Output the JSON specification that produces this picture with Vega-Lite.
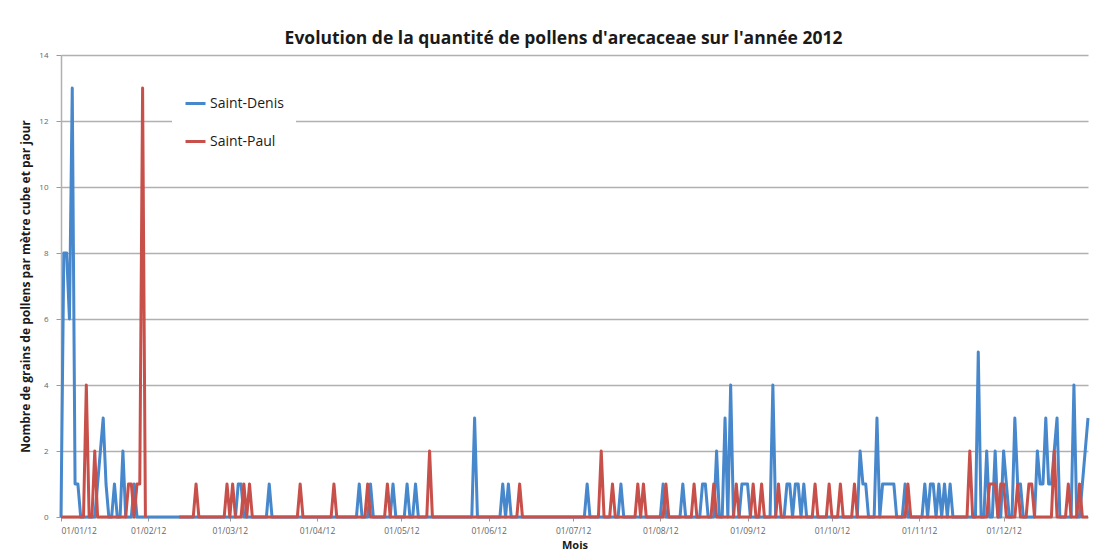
{
"$schema": "https://vega.github.io/schema/vega-lite/v6.json",
"autosize": "none",
"width": 1027,
"height": 462,
"padding": {"left": 61, "top": 55, "right": 16, "bottom": 35},
"background": "white",
"title": {"text": "Evolution de la quantité de pollens d'arecaceae sur l'année 2012", "font": "Open Sans", "fontSize": 17.5, "fontWeight": "bold", "color": "#1a1a1a", "anchor": "middle", "offset": 4, "dx": -11},
"data": {"values": [
{"date":"2012-01-01","Saint-Denis":0,"Saint-Paul":0},
{"date":"2012-01-02","Saint-Denis":8,"Saint-Paul":0},
{"date":"2012-01-03","Saint-Denis":8,"Saint-Paul":0},
{"date":"2012-01-04","Saint-Denis":6,"Saint-Paul":0},
{"date":"2012-01-05","Saint-Denis":13,"Saint-Paul":0},
{"date":"2012-01-06","Saint-Denis":1,"Saint-Paul":0},
{"date":"2012-01-07","Saint-Denis":1,"Saint-Paul":0},
{"date":"2012-01-08","Saint-Denis":0,"Saint-Paul":0},
{"date":"2012-01-09","Saint-Denis":0,"Saint-Paul":0},
{"date":"2012-01-10","Saint-Denis":0,"Saint-Paul":4},
{"date":"2012-01-11","Saint-Denis":0,"Saint-Paul":0},
{"date":"2012-01-12","Saint-Denis":0,"Saint-Paul":0},
{"date":"2012-01-13","Saint-Denis":0,"Saint-Paul":2},
{"date":"2012-01-14","Saint-Denis":1,"Saint-Paul":0},
{"date":"2012-01-15","Saint-Denis":2,"Saint-Paul":0},
{"date":"2012-01-16","Saint-Denis":3,"Saint-Paul":0},
{"date":"2012-01-17","Saint-Denis":1,"Saint-Paul":0},
{"date":"2012-01-18","Saint-Denis":0,"Saint-Paul":0},
{"date":"2012-01-19","Saint-Denis":0,"Saint-Paul":0},
{"date":"2012-01-20","Saint-Denis":1,"Saint-Paul":0},
{"date":"2012-01-21","Saint-Denis":0,"Saint-Paul":0},
{"date":"2012-01-22","Saint-Denis":0,"Saint-Paul":0},
{"date":"2012-01-23","Saint-Denis":2,"Saint-Paul":0},
{"date":"2012-01-24","Saint-Denis":0,"Saint-Paul":0},
{"date":"2012-01-25","Saint-Denis":0,"Saint-Paul":1},
{"date":"2012-01-26","Saint-Denis":0,"Saint-Paul":1},
{"date":"2012-01-27","Saint-Denis":1,"Saint-Paul":0},
{"date":"2012-01-28","Saint-Denis":0,"Saint-Paul":1},
{"date":"2012-01-29","Saint-Denis":0,"Saint-Paul":1},
{"date":"2012-01-30","Saint-Denis":0,"Saint-Paul":13},
{"date":"2012-01-31","Saint-Denis":0,"Saint-Paul":0},
{"date":"2012-02-01","Saint-Denis":0,"Saint-Paul":null},
{"date":"2012-02-02","Saint-Denis":0,"Saint-Paul":null},
{"date":"2012-02-03","Saint-Denis":0,"Saint-Paul":null},
{"date":"2012-02-04","Saint-Denis":0,"Saint-Paul":null},
{"date":"2012-02-05","Saint-Denis":0,"Saint-Paul":null},
{"date":"2012-02-06","Saint-Denis":0,"Saint-Paul":null},
{"date":"2012-02-07","Saint-Denis":0,"Saint-Paul":null},
{"date":"2012-02-08","Saint-Denis":0,"Saint-Paul":null},
{"date":"2012-02-09","Saint-Denis":0,"Saint-Paul":null},
{"date":"2012-02-10","Saint-Denis":0,"Saint-Paul":null},
{"date":"2012-02-11","Saint-Denis":0,"Saint-Paul":null},
{"date":"2012-02-12","Saint-Denis":0,"Saint-Paul":0},
{"date":"2012-02-13","Saint-Denis":0,"Saint-Paul":0},
{"date":"2012-02-14","Saint-Denis":0,"Saint-Paul":0},
{"date":"2012-02-15","Saint-Denis":0,"Saint-Paul":0},
{"date":"2012-02-16","Saint-Denis":0,"Saint-Paul":0},
{"date":"2012-02-17","Saint-Denis":0,"Saint-Paul":0},
{"date":"2012-02-18","Saint-Denis":0,"Saint-Paul":1},
{"date":"2012-02-19","Saint-Denis":0,"Saint-Paul":0},
{"date":"2012-02-20","Saint-Denis":0,"Saint-Paul":0},
{"date":"2012-02-21","Saint-Denis":0,"Saint-Paul":0},
{"date":"2012-02-22","Saint-Denis":0,"Saint-Paul":0},
{"date":"2012-02-23","Saint-Denis":0,"Saint-Paul":0},
{"date":"2012-02-24","Saint-Denis":0,"Saint-Paul":0},
{"date":"2012-02-25","Saint-Denis":0,"Saint-Paul":0},
{"date":"2012-02-26","Saint-Denis":0,"Saint-Paul":0},
{"date":"2012-02-27","Saint-Denis":0,"Saint-Paul":0},
{"date":"2012-02-28","Saint-Denis":0,"Saint-Paul":0},
{"date":"2012-02-29","Saint-Denis":0,"Saint-Paul":1},
{"date":"2012-03-01","Saint-Denis":0,"Saint-Paul":0},
{"date":"2012-03-02","Saint-Denis":0,"Saint-Paul":1},
{"date":"2012-03-03","Saint-Denis":0,"Saint-Paul":0},
{"date":"2012-03-04","Saint-Denis":1,"Saint-Paul":0},
{"date":"2012-03-05","Saint-Denis":1,"Saint-Paul":0},
{"date":"2012-03-06","Saint-Denis":0,"Saint-Paul":1},
{"date":"2012-03-07","Saint-Denis":0,"Saint-Paul":0},
{"date":"2012-03-08","Saint-Denis":0,"Saint-Paul":1},
{"date":"2012-03-09","Saint-Denis":0,"Saint-Paul":0},
{"date":"2012-03-10","Saint-Denis":0,"Saint-Paul":0},
{"date":"2012-03-11","Saint-Denis":0,"Saint-Paul":0},
{"date":"2012-03-12","Saint-Denis":0,"Saint-Paul":0},
{"date":"2012-03-13","Saint-Denis":0,"Saint-Paul":0},
{"date":"2012-03-14","Saint-Denis":0,"Saint-Paul":0},
{"date":"2012-03-15","Saint-Denis":1,"Saint-Paul":0},
{"date":"2012-03-16","Saint-Denis":0,"Saint-Paul":0},
{"date":"2012-03-17","Saint-Denis":0,"Saint-Paul":0},
{"date":"2012-03-18","Saint-Denis":0,"Saint-Paul":0},
{"date":"2012-03-19","Saint-Denis":0,"Saint-Paul":0},
{"date":"2012-03-20","Saint-Denis":0,"Saint-Paul":0},
{"date":"2012-03-21","Saint-Denis":0,"Saint-Paul":0},
{"date":"2012-03-22","Saint-Denis":0,"Saint-Paul":0},
{"date":"2012-03-23","Saint-Denis":0,"Saint-Paul":0},
{"date":"2012-03-24","Saint-Denis":0,"Saint-Paul":0},
{"date":"2012-03-25","Saint-Denis":0,"Saint-Paul":0},
{"date":"2012-03-26","Saint-Denis":0,"Saint-Paul":1},
{"date":"2012-03-27","Saint-Denis":0,"Saint-Paul":0},
{"date":"2012-03-28","Saint-Denis":0,"Saint-Paul":0},
{"date":"2012-03-29","Saint-Denis":0,"Saint-Paul":0},
{"date":"2012-03-30","Saint-Denis":0,"Saint-Paul":0},
{"date":"2012-03-31","Saint-Denis":0,"Saint-Paul":0},
{"date":"2012-04-01","Saint-Denis":0,"Saint-Paul":0},
{"date":"2012-04-02","Saint-Denis":0,"Saint-Paul":0},
{"date":"2012-04-03","Saint-Denis":0,"Saint-Paul":0},
{"date":"2012-04-04","Saint-Denis":0,"Saint-Paul":0},
{"date":"2012-04-05","Saint-Denis":0,"Saint-Paul":0},
{"date":"2012-04-06","Saint-Denis":0,"Saint-Paul":0},
{"date":"2012-04-07","Saint-Denis":0,"Saint-Paul":1},
{"date":"2012-04-08","Saint-Denis":0,"Saint-Paul":0},
{"date":"2012-04-09","Saint-Denis":0,"Saint-Paul":0},
{"date":"2012-04-10","Saint-Denis":0,"Saint-Paul":0},
{"date":"2012-04-11","Saint-Denis":0,"Saint-Paul":0},
{"date":"2012-04-12","Saint-Denis":0,"Saint-Paul":0},
{"date":"2012-04-13","Saint-Denis":0,"Saint-Paul":0},
{"date":"2012-04-14","Saint-Denis":0,"Saint-Paul":0},
{"date":"2012-04-15","Saint-Denis":0,"Saint-Paul":0},
{"date":"2012-04-16","Saint-Denis":1,"Saint-Paul":0},
{"date":"2012-04-17","Saint-Denis":0,"Saint-Paul":0},
{"date":"2012-04-18","Saint-Denis":0,"Saint-Paul":0},
{"date":"2012-04-19","Saint-Denis":0,"Saint-Paul":1},
{"date":"2012-04-20","Saint-Denis":1,"Saint-Paul":0},
{"date":"2012-04-21","Saint-Denis":0,"Saint-Paul":0},
{"date":"2012-04-22","Saint-Denis":0,"Saint-Paul":0},
{"date":"2012-04-23","Saint-Denis":0,"Saint-Paul":0},
{"date":"2012-04-24","Saint-Denis":0,"Saint-Paul":0},
{"date":"2012-04-25","Saint-Denis":0,"Saint-Paul":0},
{"date":"2012-04-26","Saint-Denis":0,"Saint-Paul":1},
{"date":"2012-04-27","Saint-Denis":0,"Saint-Paul":0},
{"date":"2012-04-28","Saint-Denis":1,"Saint-Paul":0},
{"date":"2012-04-29","Saint-Denis":0,"Saint-Paul":0},
{"date":"2012-04-30","Saint-Denis":0,"Saint-Paul":0},
{"date":"2012-05-01","Saint-Denis":0,"Saint-Paul":0},
{"date":"2012-05-02","Saint-Denis":0,"Saint-Paul":0},
{"date":"2012-05-03","Saint-Denis":1,"Saint-Paul":0},
{"date":"2012-05-04","Saint-Denis":0,"Saint-Paul":0},
{"date":"2012-05-05","Saint-Denis":0,"Saint-Paul":0},
{"date":"2012-05-06","Saint-Denis":1,"Saint-Paul":0},
{"date":"2012-05-07","Saint-Denis":0,"Saint-Paul":0},
{"date":"2012-05-08","Saint-Denis":0,"Saint-Paul":0},
{"date":"2012-05-09","Saint-Denis":0,"Saint-Paul":0},
{"date":"2012-05-10","Saint-Denis":0,"Saint-Paul":0},
{"date":"2012-05-11","Saint-Denis":0,"Saint-Paul":2},
{"date":"2012-05-12","Saint-Denis":0,"Saint-Paul":0},
{"date":"2012-05-13","Saint-Denis":0,"Saint-Paul":0},
{"date":"2012-05-14","Saint-Denis":0,"Saint-Paul":0},
{"date":"2012-05-15","Saint-Denis":0,"Saint-Paul":0},
{"date":"2012-05-16","Saint-Denis":0,"Saint-Paul":0},
{"date":"2012-05-17","Saint-Denis":0,"Saint-Paul":0},
{"date":"2012-05-18","Saint-Denis":0,"Saint-Paul":0},
{"date":"2012-05-19","Saint-Denis":0,"Saint-Paul":0},
{"date":"2012-05-20","Saint-Denis":0,"Saint-Paul":0},
{"date":"2012-05-21","Saint-Denis":0,"Saint-Paul":0},
{"date":"2012-05-22","Saint-Denis":0,"Saint-Paul":0},
{"date":"2012-05-23","Saint-Denis":0,"Saint-Paul":0},
{"date":"2012-05-24","Saint-Denis":0,"Saint-Paul":0},
{"date":"2012-05-25","Saint-Denis":0,"Saint-Paul":0},
{"date":"2012-05-26","Saint-Denis":0,"Saint-Paul":0},
{"date":"2012-05-27","Saint-Denis":3,"Saint-Paul":0},
{"date":"2012-05-28","Saint-Denis":0,"Saint-Paul":0},
{"date":"2012-05-29","Saint-Denis":0,"Saint-Paul":0},
{"date":"2012-05-30","Saint-Denis":0,"Saint-Paul":0},
{"date":"2012-05-31","Saint-Denis":0,"Saint-Paul":0},
{"date":"2012-06-01","Saint-Denis":0,"Saint-Paul":0},
{"date":"2012-06-02","Saint-Denis":0,"Saint-Paul":0},
{"date":"2012-06-03","Saint-Denis":0,"Saint-Paul":0},
{"date":"2012-06-04","Saint-Denis":0,"Saint-Paul":0},
{"date":"2012-06-05","Saint-Denis":0,"Saint-Paul":0},
{"date":"2012-06-06","Saint-Denis":1,"Saint-Paul":0},
{"date":"2012-06-07","Saint-Denis":0,"Saint-Paul":0},
{"date":"2012-06-08","Saint-Denis":1,"Saint-Paul":0},
{"date":"2012-06-09","Saint-Denis":0,"Saint-Paul":0},
{"date":"2012-06-10","Saint-Denis":0,"Saint-Paul":0},
{"date":"2012-06-11","Saint-Denis":0,"Saint-Paul":0},
{"date":"2012-06-12","Saint-Denis":0,"Saint-Paul":1},
{"date":"2012-06-13","Saint-Denis":0,"Saint-Paul":0},
{"date":"2012-06-14","Saint-Denis":0,"Saint-Paul":0},
{"date":"2012-06-15","Saint-Denis":0,"Saint-Paul":0},
{"date":"2012-06-16","Saint-Denis":0,"Saint-Paul":0},
{"date":"2012-06-17","Saint-Denis":0,"Saint-Paul":0},
{"date":"2012-06-18","Saint-Denis":0,"Saint-Paul":0},
{"date":"2012-06-19","Saint-Denis":0,"Saint-Paul":0},
{"date":"2012-06-20","Saint-Denis":0,"Saint-Paul":0},
{"date":"2012-06-21","Saint-Denis":0,"Saint-Paul":0},
{"date":"2012-06-22","Saint-Denis":0,"Saint-Paul":0},
{"date":"2012-06-23","Saint-Denis":0,"Saint-Paul":0},
{"date":"2012-06-24","Saint-Denis":0,"Saint-Paul":0},
{"date":"2012-06-25","Saint-Denis":0,"Saint-Paul":0},
{"date":"2012-06-26","Saint-Denis":0,"Saint-Paul":0},
{"date":"2012-06-27","Saint-Denis":0,"Saint-Paul":0},
{"date":"2012-06-28","Saint-Denis":0,"Saint-Paul":0},
{"date":"2012-06-29","Saint-Denis":0,"Saint-Paul":0},
{"date":"2012-06-30","Saint-Denis":0,"Saint-Paul":0},
{"date":"2012-07-01","Saint-Denis":0,"Saint-Paul":0},
{"date":"2012-07-02","Saint-Denis":0,"Saint-Paul":0},
{"date":"2012-07-03","Saint-Denis":0,"Saint-Paul":0},
{"date":"2012-07-04","Saint-Denis":0,"Saint-Paul":0},
{"date":"2012-07-05","Saint-Denis":0,"Saint-Paul":0},
{"date":"2012-07-06","Saint-Denis":1,"Saint-Paul":0},
{"date":"2012-07-07","Saint-Denis":0,"Saint-Paul":0},
{"date":"2012-07-08","Saint-Denis":0,"Saint-Paul":0},
{"date":"2012-07-09","Saint-Denis":0,"Saint-Paul":0},
{"date":"2012-07-10","Saint-Denis":0,"Saint-Paul":0},
{"date":"2012-07-11","Saint-Denis":0,"Saint-Paul":2},
{"date":"2012-07-12","Saint-Denis":0,"Saint-Paul":0},
{"date":"2012-07-13","Saint-Denis":0,"Saint-Paul":0},
{"date":"2012-07-14","Saint-Denis":0,"Saint-Paul":0},
{"date":"2012-07-15","Saint-Denis":0,"Saint-Paul":1},
{"date":"2012-07-16","Saint-Denis":0,"Saint-Paul":0},
{"date":"2012-07-17","Saint-Denis":0,"Saint-Paul":0},
{"date":"2012-07-18","Saint-Denis":1,"Saint-Paul":0},
{"date":"2012-07-19","Saint-Denis":0,"Saint-Paul":0},
{"date":"2012-07-20","Saint-Denis":0,"Saint-Paul":0},
{"date":"2012-07-21","Saint-Denis":0,"Saint-Paul":0},
{"date":"2012-07-22","Saint-Denis":0,"Saint-Paul":0},
{"date":"2012-07-23","Saint-Denis":0,"Saint-Paul":0},
{"date":"2012-07-24","Saint-Denis":0,"Saint-Paul":1},
{"date":"2012-07-25","Saint-Denis":0,"Saint-Paul":0},
{"date":"2012-07-26","Saint-Denis":0,"Saint-Paul":1},
{"date":"2012-07-27","Saint-Denis":0,"Saint-Paul":0},
{"date":"2012-07-28","Saint-Denis":0,"Saint-Paul":0},
{"date":"2012-07-29","Saint-Denis":0,"Saint-Paul":0},
{"date":"2012-07-30","Saint-Denis":0,"Saint-Paul":0},
{"date":"2012-07-31","Saint-Denis":0,"Saint-Paul":0},
{"date":"2012-08-01","Saint-Denis":0,"Saint-Paul":0},
{"date":"2012-08-02","Saint-Denis":1,"Saint-Paul":0},
{"date":"2012-08-03","Saint-Denis":0,"Saint-Paul":1},
{"date":"2012-08-04","Saint-Denis":0,"Saint-Paul":0},
{"date":"2012-08-05","Saint-Denis":0,"Saint-Paul":0},
{"date":"2012-08-06","Saint-Denis":0,"Saint-Paul":0},
{"date":"2012-08-07","Saint-Denis":0,"Saint-Paul":0},
{"date":"2012-08-08","Saint-Denis":0,"Saint-Paul":0},
{"date":"2012-08-09","Saint-Denis":1,"Saint-Paul":0},
{"date":"2012-08-10","Saint-Denis":0,"Saint-Paul":0},
{"date":"2012-08-11","Saint-Denis":0,"Saint-Paul":0},
{"date":"2012-08-12","Saint-Denis":0,"Saint-Paul":0},
{"date":"2012-08-13","Saint-Denis":0,"Saint-Paul":1},
{"date":"2012-08-14","Saint-Denis":0,"Saint-Paul":0},
{"date":"2012-08-15","Saint-Denis":0,"Saint-Paul":0},
{"date":"2012-08-16","Saint-Denis":1,"Saint-Paul":0},
{"date":"2012-08-17","Saint-Denis":1,"Saint-Paul":0},
{"date":"2012-08-18","Saint-Denis":0,"Saint-Paul":0},
{"date":"2012-08-19","Saint-Denis":0,"Saint-Paul":0},
{"date":"2012-08-20","Saint-Denis":0,"Saint-Paul":1},
{"date":"2012-08-21","Saint-Denis":2,"Saint-Paul":0},
{"date":"2012-08-22","Saint-Denis":0,"Saint-Paul":0},
{"date":"2012-08-23","Saint-Denis":0,"Saint-Paul":0},
{"date":"2012-08-24","Saint-Denis":3,"Saint-Paul":0},
{"date":"2012-08-25","Saint-Denis":0,"Saint-Paul":0},
{"date":"2012-08-26","Saint-Denis":4,"Saint-Paul":0},
{"date":"2012-08-27","Saint-Denis":0,"Saint-Paul":0},
{"date":"2012-08-28","Saint-Denis":0,"Saint-Paul":1},
{"date":"2012-08-29","Saint-Denis":0,"Saint-Paul":0},
{"date":"2012-08-30","Saint-Denis":1,"Saint-Paul":0},
{"date":"2012-08-31","Saint-Denis":1,"Saint-Paul":0},
{"date":"2012-09-01","Saint-Denis":1,"Saint-Paul":0},
{"date":"2012-09-02","Saint-Denis":0,"Saint-Paul":0},
{"date":"2012-09-03","Saint-Denis":0,"Saint-Paul":1},
{"date":"2012-09-04","Saint-Denis":0,"Saint-Paul":0},
{"date":"2012-09-05","Saint-Denis":0,"Saint-Paul":0},
{"date":"2012-09-06","Saint-Denis":0,"Saint-Paul":1},
{"date":"2012-09-07","Saint-Denis":0,"Saint-Paul":0},
{"date":"2012-09-08","Saint-Denis":0,"Saint-Paul":0},
{"date":"2012-09-09","Saint-Denis":0,"Saint-Paul":0},
{"date":"2012-09-10","Saint-Denis":4,"Saint-Paul":0},
{"date":"2012-09-11","Saint-Denis":0,"Saint-Paul":0},
{"date":"2012-09-12","Saint-Denis":0,"Saint-Paul":1},
{"date":"2012-09-13","Saint-Denis":0,"Saint-Paul":0},
{"date":"2012-09-14","Saint-Denis":0,"Saint-Paul":0},
{"date":"2012-09-15","Saint-Denis":1,"Saint-Paul":0},
{"date":"2012-09-16","Saint-Denis":1,"Saint-Paul":0},
{"date":"2012-09-17","Saint-Denis":0,"Saint-Paul":0},
{"date":"2012-09-18","Saint-Denis":1,"Saint-Paul":0},
{"date":"2012-09-19","Saint-Denis":1,"Saint-Paul":0},
{"date":"2012-09-20","Saint-Denis":0,"Saint-Paul":0},
{"date":"2012-09-21","Saint-Denis":1,"Saint-Paul":0},
{"date":"2012-09-22","Saint-Denis":0,"Saint-Paul":0},
{"date":"2012-09-23","Saint-Denis":0,"Saint-Paul":0},
{"date":"2012-09-24","Saint-Denis":0,"Saint-Paul":0},
{"date":"2012-09-25","Saint-Denis":0,"Saint-Paul":1},
{"date":"2012-09-26","Saint-Denis":0,"Saint-Paul":0},
{"date":"2012-09-27","Saint-Denis":0,"Saint-Paul":0},
{"date":"2012-09-28","Saint-Denis":0,"Saint-Paul":0},
{"date":"2012-09-29","Saint-Denis":0,"Saint-Paul":0},
{"date":"2012-09-30","Saint-Denis":0,"Saint-Paul":1},
{"date":"2012-10-01","Saint-Denis":0,"Saint-Paul":0},
{"date":"2012-10-02","Saint-Denis":0,"Saint-Paul":0},
{"date":"2012-10-03","Saint-Denis":0,"Saint-Paul":0},
{"date":"2012-10-04","Saint-Denis":0,"Saint-Paul":1},
{"date":"2012-10-05","Saint-Denis":0,"Saint-Paul":0},
{"date":"2012-10-06","Saint-Denis":0,"Saint-Paul":0},
{"date":"2012-10-07","Saint-Denis":0,"Saint-Paul":0},
{"date":"2012-10-08","Saint-Denis":0,"Saint-Paul":0},
{"date":"2012-10-09","Saint-Denis":0,"Saint-Paul":1},
{"date":"2012-10-10","Saint-Denis":0,"Saint-Paul":0},
{"date":"2012-10-11","Saint-Denis":2,"Saint-Paul":0},
{"date":"2012-10-12","Saint-Denis":1,"Saint-Paul":0},
{"date":"2012-10-13","Saint-Denis":1,"Saint-Paul":0},
{"date":"2012-10-14","Saint-Denis":0,"Saint-Paul":0},
{"date":"2012-10-15","Saint-Denis":0,"Saint-Paul":0},
{"date":"2012-10-16","Saint-Denis":0,"Saint-Paul":0},
{"date":"2012-10-17","Saint-Denis":3,"Saint-Paul":0},
{"date":"2012-10-18","Saint-Denis":0,"Saint-Paul":0},
{"date":"2012-10-19","Saint-Denis":1,"Saint-Paul":0},
{"date":"2012-10-20","Saint-Denis":1,"Saint-Paul":0},
{"date":"2012-10-21","Saint-Denis":1,"Saint-Paul":0},
{"date":"2012-10-22","Saint-Denis":1,"Saint-Paul":0},
{"date":"2012-10-23","Saint-Denis":1,"Saint-Paul":0},
{"date":"2012-10-24","Saint-Denis":0,"Saint-Paul":0},
{"date":"2012-10-25","Saint-Denis":0,"Saint-Paul":0},
{"date":"2012-10-26","Saint-Denis":0,"Saint-Paul":0},
{"date":"2012-10-27","Saint-Denis":1,"Saint-Paul":0},
{"date":"2012-10-28","Saint-Denis":0,"Saint-Paul":1},
{"date":"2012-10-29","Saint-Denis":0,"Saint-Paul":0},
{"date":"2012-10-30","Saint-Denis":0,"Saint-Paul":0},
{"date":"2012-10-31","Saint-Denis":0,"Saint-Paul":0},
{"date":"2012-11-01","Saint-Denis":0,"Saint-Paul":0},
{"date":"2012-11-02","Saint-Denis":0,"Saint-Paul":0},
{"date":"2012-11-03","Saint-Denis":1,"Saint-Paul":0},
{"date":"2012-11-04","Saint-Denis":0,"Saint-Paul":0},
{"date":"2012-11-05","Saint-Denis":1,"Saint-Paul":0},
{"date":"2012-11-06","Saint-Denis":1,"Saint-Paul":0},
{"date":"2012-11-07","Saint-Denis":0,"Saint-Paul":0},
{"date":"2012-11-08","Saint-Denis":1,"Saint-Paul":0},
{"date":"2012-11-09","Saint-Denis":0,"Saint-Paul":0},
{"date":"2012-11-10","Saint-Denis":1,"Saint-Paul":0},
{"date":"2012-11-11","Saint-Denis":0,"Saint-Paul":0},
{"date":"2012-11-12","Saint-Denis":1,"Saint-Paul":0},
{"date":"2012-11-13","Saint-Denis":0,"Saint-Paul":0},
{"date":"2012-11-14","Saint-Denis":0,"Saint-Paul":0},
{"date":"2012-11-15","Saint-Denis":0,"Saint-Paul":0},
{"date":"2012-11-16","Saint-Denis":0,"Saint-Paul":0},
{"date":"2012-11-17","Saint-Denis":0,"Saint-Paul":0},
{"date":"2012-11-18","Saint-Denis":0,"Saint-Paul":0},
{"date":"2012-11-19","Saint-Denis":0,"Saint-Paul":2},
{"date":"2012-11-20","Saint-Denis":0,"Saint-Paul":0},
{"date":"2012-11-21","Saint-Denis":0,"Saint-Paul":0},
{"date":"2012-11-22","Saint-Denis":5,"Saint-Paul":0},
{"date":"2012-11-23","Saint-Denis":0,"Saint-Paul":0},
{"date":"2012-11-24","Saint-Denis":0,"Saint-Paul":0},
{"date":"2012-11-25","Saint-Denis":2,"Saint-Paul":0},
{"date":"2012-11-26","Saint-Denis":0,"Saint-Paul":1},
{"date":"2012-11-27","Saint-Denis":0,"Saint-Paul":1},
{"date":"2012-11-28","Saint-Denis":2,"Saint-Paul":1},
{"date":"2012-11-29","Saint-Denis":0,"Saint-Paul":0},
{"date":"2012-11-30","Saint-Denis":0,"Saint-Paul":1},
{"date":"2012-12-01","Saint-Denis":2,"Saint-Paul":1},
{"date":"2012-12-02","Saint-Denis":1,"Saint-Paul":0},
{"date":"2012-12-03","Saint-Denis":0,"Saint-Paul":0},
{"date":"2012-12-04","Saint-Denis":0,"Saint-Paul":0},
{"date":"2012-12-05","Saint-Denis":3,"Saint-Paul":0},
{"date":"2012-12-06","Saint-Denis":1,"Saint-Paul":1},
{"date":"2012-12-07","Saint-Denis":1,"Saint-Paul":0},
{"date":"2012-12-08","Saint-Denis":0,"Saint-Paul":0},
{"date":"2012-12-09","Saint-Denis":0,"Saint-Paul":0},
{"date":"2012-12-10","Saint-Denis":0,"Saint-Paul":1},
{"date":"2012-12-11","Saint-Denis":0,"Saint-Paul":1},
{"date":"2012-12-12","Saint-Denis":0,"Saint-Paul":0},
{"date":"2012-12-13","Saint-Denis":2,"Saint-Paul":0},
{"date":"2012-12-14","Saint-Denis":1,"Saint-Paul":0},
{"date":"2012-12-15","Saint-Denis":1,"Saint-Paul":0},
{"date":"2012-12-16","Saint-Denis":3,"Saint-Paul":0},
{"date":"2012-12-17","Saint-Denis":1,"Saint-Paul":0},
{"date":"2012-12-18","Saint-Denis":1,"Saint-Paul":0},
{"date":"2012-12-19","Saint-Denis":2,"Saint-Paul":2},
{"date":"2012-12-20","Saint-Denis":3,"Saint-Paul":0},
{"date":"2012-12-21","Saint-Denis":0,"Saint-Paul":0},
{"date":"2012-12-22","Saint-Denis":0,"Saint-Paul":0},
{"date":"2012-12-23","Saint-Denis":0,"Saint-Paul":0},
{"date":"2012-12-24","Saint-Denis":0,"Saint-Paul":1},
{"date":"2012-12-25","Saint-Denis":0,"Saint-Paul":0},
{"date":"2012-12-26","Saint-Denis":4,"Saint-Paul":0},
{"date":"2012-12-27","Saint-Denis":0,"Saint-Paul":0},
{"date":"2012-12-28","Saint-Denis":0,"Saint-Paul":1},
{"date":"2012-12-29","Saint-Denis":1,"Saint-Paul":0},
{"date":"2012-12-30","Saint-Denis":2,"Saint-Paul":0},
{"date":"2012-12-31","Saint-Denis":3,"Saint-Paul":0}
]},
"transform": [{"fold": ["Saint-Denis", "Saint-Paul"], "as": ["station", "pollens"]}],
"mark": {"type": "line", "strokeWidth": 3, "strokeJoin": "round"},
"encoding": {
  "x": {"field": "date", "type": "temporal",
    "scale": {"type": "utc", "domain": [{"year": 2012, "month": 1, "date": 1, "utc": true}, {"year": 2012, "month": 12, "date": 31, "utc": true}]},
    "axis": {"title": "Mois", "format": "%d/%m/%y", "tickCount": "month",
      "labelFont": "Open Sans", "labelFontSize": 8.5, "labelColor": "#666666", "labelPadding": 5,
      "tickSize": 4, "tickColor": "#9a9a9a", "domainColor": "#b0b0b0", "domainWidth": 1.5, "grid": false,
      "titleFont": "Open Sans", "titleFontSize": 11, "titleFontWeight": "bold", "titleColor": "#1a1a1a", "titlePadding": 5}},
  "y": {"field": "pollens", "type": "quantitative",
    "scale": {"domain": [0, 14], "nice": false},
    "axis": {"title": "Nombre de grains de pollens par mètre cube et par jour", "values": [0, 2, 4, 6, 8, 10, 12, 14],
      "labelFont": "Open Sans", "labelFontSize": 8, "labelColor": "#666666", "labelPadding": 8,
      "tickSize": 5, "tickColor": "#9a9a9a", "domainColor": "#b0b0b0", "domainWidth": 1.5,
      "gridColor": "#b0b0b0", "gridWidth": 1.5,
      "titleFont": "Open Sans", "titleFontSize": 12, "titleFontWeight": "bold", "titleColor": "#1a1a1a", "titlePadding": 6}},
  "color": {"field": "station", "type": "nominal",
    "scale": {"domain": ["Saint-Denis", "Saint-Paul"], "range": ["#4787cc", "#c8504b"]},
    "legend": {"title": null, "orient": "none", "legendX": 111, "legendY": 25, "fillColor": "white", "padding": 12,
      "symbolType": "stroke", "symbolSize": 400, "symbolStrokeWidth": 3, "labelOffset": 3,
      "labelFont": "Open Sans", "labelFontSize": 14, "labelColor": "#1a1a1a", "rowPadding": 19}}
},
"config": {"view": {"stroke": null}}
}
